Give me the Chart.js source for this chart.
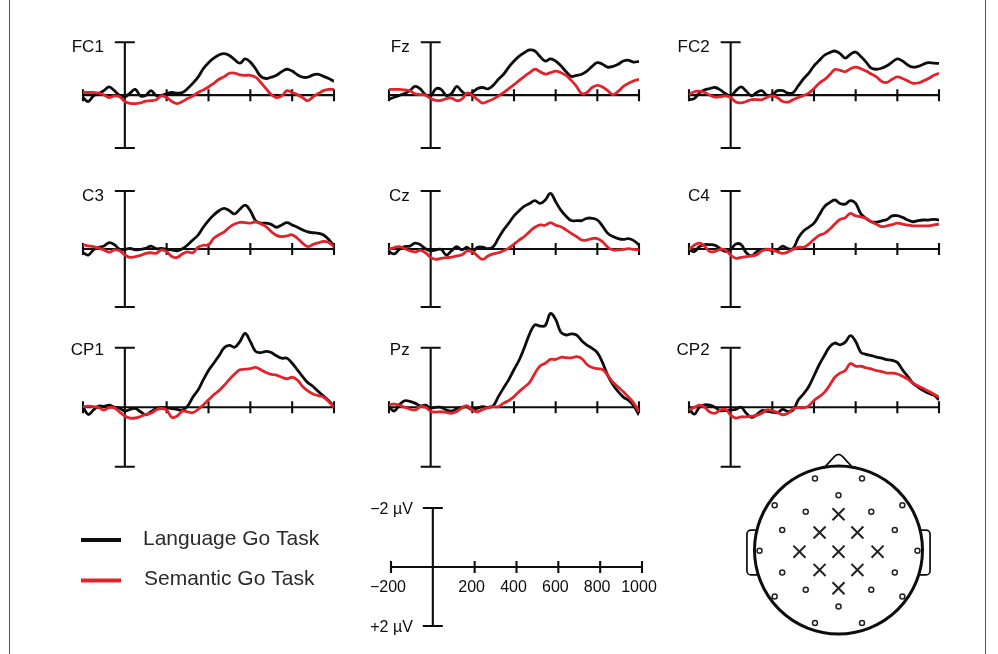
<!DOCTYPE html>
<html lang="en">
<head>
  <meta charset="UTF-8">
  <title>ERP waveforms: Language vs Semantic Go Task</title>
  <script src="https://cdn.jsdelivr.net/npm/chart.js"></script>
  <style>
    html, body { margin: 0; padding: 0; background: #fff; }
    body { width: 998px; height: 654px; position: relative; overflow: hidden; }
    canvas { position: absolute; left: 0; top: 0; }
    #frame { position: absolute; left: 9px; top: -5px; width: 975px; height: 670px;
             border-left: 1.5px solid #555; border-right: 1.5px solid #555; }
  </style>
</head>
<body>
<div id="frame"></div>

<script>
  // time points (ms) of the sampled waveforms
  const times = [-200, -175, -150, -125, -100, -75, -50, -25, 0, 25, 50, 75, 100, 125, 150, 175,
    200, 225, 250, 275, 300, 325, 350, 375, 400, 425, 450, 475, 500, 525, 550, 575,
    600, 625, 650, 675, 700, 725, 750, 775, 800, 825, 850, 875, 900, 925, 950, 975, 1000];

  const seriesNames = ['Language Go Task', 'Semantic Go Task'];
  const channelNames = ['FC1', 'Fz', 'FC2', 'C3', 'Cz', 'C4', 'CP1', 'Pz', 'CP2'];

  // amplitudes in µV (negative is plotted up)
  const fc1Language = [0.09, 0.24, 0.03, -0.06, -0.17, -0.31, -0.17, 0.01, 0.06, -0.08, -0.22, 0.03, 0.01, -0.17, 0.01, 0.01, -0.06, -0.1, -0.08, -0.1, -0.25, -0.45, -0.68, -1.0, -1.23, -1.4, -1.52, -1.57, -1.5, -1.34, -1.21, -1.37, -1.25, -1.0, -0.71, -0.63, -0.68, -0.75, -0.89, -0.98, -0.91, -0.77, -0.68, -0.68, -0.77, -0.79, -0.71, -0.63, -0.52];
  const fc1Semantic = [-0.1, -0.1, -0.1, -0.08, -0.01, 0.09, 0.03, 0.06, 0.24, 0.31, 0.32, 0.29, 0.23, 0.21, 0.17, 0.03, 0.09, 0.24, 0.32, 0.24, 0.13, 0.03, -0.1, -0.2, -0.31, -0.45, -0.6, -0.7, -0.83, -0.83, -0.77, -0.75, -0.75, -0.68, -0.48, -0.25, -0.02, 0.09, 0.03, -0.17, -0.1, -0.02, 0.09, 0.21, 0.06, -0.06, -0.17, -0.22, -0.22];
  const fzLanguage = [0.15, 0.08, 0.01, -0.06, -0.17, -0.33, -0.24, -0.02, 0.03, -0.24, -0.22, 0.01, -0.06, -0.33, -0.14, -0.02, -0.1, -0.25, -0.29, -0.24, -0.37, -0.6, -0.79, -1.06, -1.29, -1.48, -1.61, -1.71, -1.67, -1.46, -1.29, -1.37, -1.29, -1.11, -0.89, -0.71, -0.75, -0.79, -0.91, -1.09, -1.23, -1.17, -1.06, -1.09, -1.17, -1.29, -1.32, -1.25, -1.28];
  const fzSemantic = [-0.22, -0.22, -0.22, -0.2, -0.17, -0.05, -0.02, 0, 0.13, 0.2, 0.2, 0.13, 0.11, 0.21, 0.15, -0.08, 0.01, 0.17, 0.3, 0.23, 0.15, 0.03, -0.1, -0.25, -0.4, -0.56, -0.71, -0.85, -0.98, -0.89, -0.8, -0.85, -0.91, -0.85, -0.75, -0.56, -0.33, -0.06, -0.1, -0.29, -0.37, -0.31, -0.17, -0.02, -0.14, -0.33, -0.45, -0.54, -0.6];
  const fc2Language = [0.17, 0.13, -0.08, -0.2, -0.25, -0.29, -0.2, -0.06, 0.03, -0.17, -0.31, -0.15, 0.03, -0.1, -0.17, 0.01, -0.02, -0.17, -0.17, -0.08, -0.1, -0.36, -0.62, -0.83, -1.11, -1.31, -1.51, -1.61, -1.67, -1.57, -1.4, -1.55, -1.63, -1.46, -1.25, -1.02, -0.98, -1.02, -1.11, -1.25, -1.37, -1.29, -1.14, -1.06, -1.09, -1.17, -1.23, -1.21, -1.2];
  const fc2Semantic = [-0.02, -0.13, -0.15, -0.1, 0, 0.07, 0.06, 0.03, 0.09, 0.26, 0.29, 0.24, 0.17, 0.17, 0.17, 0.08, 0.03, 0.1, 0.24, 0.26, 0.17, 0.09, 0.01, -0.08, -0.25, -0.45, -0.59, -0.77, -0.97, -0.94, -0.89, -1.0, -1.06, -1.0, -0.91, -0.8, -0.69, -0.52, -0.48, -0.6, -0.69, -0.63, -0.54, -0.45, -0.46, -0.54, -0.63, -0.75, -0.83];
  const c3Language = [0.13, 0.21, 0.03, -0.05, -0.1, -0.22, -0.15, 0.01, 0.01, -0.02, 0.03, 0.01, -0.02, -0.1, -0.01, -0.02, 0.01, 0.03, 0.06, -0.01, -0.14, -0.31, -0.48, -0.75, -0.98, -1.17, -1.32, -1.4, -1.32, -1.21, -1.37, -1.51, -1.32, -0.98, -0.89, -0.89, -0.85, -0.75, -0.83, -0.91, -0.83, -0.75, -0.66, -0.59, -0.56, -0.54, -0.48, -0.33, -0.1];
  const c3Semantic = [-0.14, -0.11, -0.08, -0.03, 0.03, 0.11, 0.03, 0.06, 0.2, 0.29, 0.26, 0.22, 0.15, 0.13, 0.15, 0.03, 0.09, 0.26, 0.29, 0.17, 0.1, 0.13, -0.06, -0.13, -0.14, -0.37, -0.49, -0.59, -0.75, -0.86, -0.92, -0.91, -0.89, -0.94, -0.86, -0.77, -0.6, -0.47, -0.43, -0.45, -0.49, -0.37, -0.2, -0.08, -0.16, -0.21, -0.26, -0.22, -0.08];
  const czLanguage = [0.09, 0.17, 0.01, -0.08, -0.1, -0.2, -0.15, -0.01, 0.06, 0.03, 0.01, 0.21, 0.06, -0.08, 0.03, -0.06, 0.09, -0.06, -0.06, -0.01, -0.08, -0.37, -0.66, -0.89, -1.14, -1.32, -1.48, -1.57, -1.67, -1.57, -1.69, -1.92, -1.63, -1.34, -1.13, -0.98, -0.98, -0.98, -1.06, -1.06, -1.0, -0.79, -0.54, -0.43, -0.36, -0.33, -0.36, -0.29, -0.14];
  const czSemantic = [0.01, -0.05, -0.08, -0.01, 0.06, 0.1, 0.05, 0.13, 0.29, 0.36, 0.32, 0.3, 0.28, 0.24, 0.2, 0.07, 0.09, 0.24, 0.36, 0.24, 0.17, 0.13, 0.06, -0.03, -0.17, -0.31, -0.43, -0.6, -0.75, -0.83, -0.82, -0.91, -0.82, -0.77, -0.66, -0.54, -0.43, -0.31, -0.31, -0.36, -0.36, -0.25, -0.06, 0.03, 0.03, 0.01, -0.01, 0.01, 0.03];
  const c4Language = [0.01, 0.09, -0.08, -0.15, -0.15, -0.13, -0.01, 0.08, 0.01, -0.17, -0.15, 0.13, 0.24, 0.09, 0.03, 0.01, 0.06, 0.03, -0.1, -0.01, -0.02, -0.39, -0.62, -0.75, -0.89, -1.17, -1.46, -1.6, -1.69, -1.57, -1.55, -1.67, -1.57, -1.21, -1.06, -0.94, -0.93, -0.97, -1.02, -1.14, -1.15, -1.09, -1.0, -0.94, -0.98, -1.0, -1.0, -1.02, -1.0];
  const c4Semantic = [0.03, -0.13, -0.2, -0.1, 0.09, 0.08, 0.01, 0.03, 0.21, 0.32, 0.29, 0.26, 0.24, 0.2, 0.06, 0.01, 0.03, 0.1, 0.15, 0.1, 0.01, -0.06, -0.06, -0.17, -0.33, -0.47, -0.54, -0.68, -0.86, -1.02, -1.08, -1.23, -1.14, -1.11, -1.05, -0.94, -0.85, -0.77, -0.8, -0.84, -0.89, -0.86, -0.82, -0.8, -0.8, -0.8, -0.8, -0.83, -0.86];
  const cp1Language = [-0.02, 0.24, 0.09, -0.04, -0.03, -0.07, -0.01, 0.03, 0.13, 0.07, 0.04, 0.15, 0.25, 0.15, 0.04, 0, 0.02, 0.04, 0.07, 0.09, -0.04, -0.34, -0.58, -0.92, -1.24, -1.48, -1.73, -2.0, -2.08, -2.02, -2.21, -2.48, -2.21, -1.88, -1.84, -1.88, -1.84, -1.73, -1.65, -1.65, -1.48, -1.26, -1.03, -0.83, -0.7, -0.53, -0.38, -0.22, -0.02];
  const cp1Semantic = [-0.02, -0.04, -0.02, 0.01, 0.09, 0.01, 0.02, 0.16, 0.29, 0.36, 0.36, 0.31, 0.24, 0.2, 0.09, 0.04, 0.09, 0.34, 0.29, 0.13, 0.15, 0.18, 0.07, -0.08, -0.25, -0.42, -0.56, -0.74, -0.94, -1.12, -1.26, -1.28, -1.3, -1.34, -1.26, -1.17, -1.11, -1.08, -1.01, -0.96, -1.01, -0.92, -0.7, -0.55, -0.45, -0.39, -0.34, -0.19, 0];
  const pzLanguage = [-0.02, 0.13, -0.08, -0.22, -0.2, -0.14, -0.05, -0.07, 0.02, 0, 0, 0.09, 0.13, 0.05, 0, -0.01, 0.09, 0.03, -0.02, 0, -0.05, -0.36, -0.65, -0.93, -1.27, -1.59, -2.01, -2.47, -2.77, -2.73, -2.75, -3.15, -2.95, -2.52, -2.43, -2.47, -2.43, -2.24, -2.09, -1.98, -1.84, -1.5, -1.07, -0.76, -0.53, -0.34, -0.23, -0.05, 0.26];
  const pzSemantic = [-0.08, -0.11, -0.07, 0, 0.06, 0.09, -0.02, 0, 0.13, 0.16, 0.15, 0.17, 0.2, 0.14, 0.02, -0.05, 0.09, 0.15, 0.07, 0.01, -0.02, -0.02, -0.14, -0.23, -0.36, -0.53, -0.68, -0.84, -1.14, -1.39, -1.48, -1.61, -1.61, -1.68, -1.67, -1.66, -1.7, -1.64, -1.44, -1.34, -1.3, -1.27, -1.07, -0.84, -0.68, -0.52, -0.34, -0.14, 0.15];
  const cp2Language = [0.03, 0.23, 0, -0.08, -0.07, 0, 0.11, 0.11, 0.09, 0.07, 0, 0.2, 0.34, 0.25, 0.11, 0.14, 0.16, 0.18, 0.07, 0.14, 0.09, -0.25, -0.45, -0.7, -1.06, -1.43, -1.74, -2.03, -2.16, -2.1, -2.19, -2.41, -2.21, -1.85, -1.78, -1.74, -1.69, -1.65, -1.6, -1.58, -1.51, -1.26, -1.04, -0.81, -0.68, -0.56, -0.47, -0.41, -0.25];
  const cp2Semantic = [0.09, 0.01, -0.07, 0, 0.16, 0.2, 0.09, 0.07, 0.26, 0.36, 0.32, 0.32, 0.3, 0.27, 0.2, 0.09, 0.11, 0.18, 0.25, 0.2, 0.05, 0.01, 0.02, -0.05, -0.23, -0.36, -0.5, -0.74, -1.01, -1.15, -1.24, -1.47, -1.38, -1.38, -1.33, -1.29, -1.23, -1.2, -1.15, -1.15, -1.12, -1.04, -0.95, -0.81, -0.72, -0.63, -0.54, -0.45, -0.34];

  const languageSeries = [fc1Language, fzLanguage, fc2Language, c3Language, czLanguage, c4Language, cp1Language, pzLanguage, cp2Language];
  const semanticSeries = [fc1Semantic, fzSemantic, fc2Semantic, c3Semantic, czSemantic, c4Semantic, cp1Semantic, pzSemantic, cp2Semantic];

  // axis ticks (ms) and scale-bar labels
  const xTickValues = [-200, 0, 200, 400, 600, 800, 1000];
  const xTickLabels = ['\u2212200', '', '200', '400', '600', '800', '1000'];
  const yScaleValues = [-2, 2];
  const yScaleLabels = ['\u22122 \u00b5V', '+2 \u00b5V'];

  // electrode montage (head radius = 1, nose up)
  const otherElecX = [-0.28, 0.28, 0, -0.76, 0.76, -0.39, 0.39, -0.67, 0.67, -0.94, 0.94, -0.67, 0.67, -0.39, 0.39, -0.76, 0.76, 0, -0.28, 0.28];
  const otherElecY = [0.86, 0.86, 0.66, 0.54, 0.54, 0.46, 0.46, 0.24, 0.24, -0.01, -0.01, -0.27, -0.27, -0.48, -0.48, -0.56, -0.56, -0.68, -0.88, -0.88];
  const shownElecX = [0, -0.225, 0.225, -0.465, 0, 0.465, -0.225, 0.225, 0];
  const shownElecY = [0.43, 0.21, 0.21, -0.02, -0.02, -0.02, -0.24, -0.24, -0.46];

  // ---- layout ----
  const W = 998, H = 654;
  const BLACK = '#0d0d0d', RED = '#e4222b';
  const FONT = '"Liberation Sans", Arial, Helvetica, sans-serif';
  Chart.defaults.font.family = FONT;

  const panelBoxes = [
    { left: 83, right: 334, base: 89, ppu: 29, labelDy: 9.5 },
    { left: 389, right: 639, base: 89, ppu: 29, labelDy: 9.5 },
    { left: 689, right: 939, base: 89, ppu: 29, labelDy: 9.5 },
    { left: 83, right: 334, base: 249, ppu: 29, labelDy: 9.5 },
    { left: 389, right: 639, base: 249, ppu: 29, labelDy: 9.5 },
    { left: 689, right: 939, base: 249, ppu: 29, labelDy: 9.5 },
    { left: 83, right: 334, base: 407.3, ppu: 29.75, labelDy: 6.8 },
    { left: 389, right: 639, base: 407.3, ppu: 29.75, labelDy: 6.8 },
    { left: 689, right: 939, base: 407.3, ppu: 29.75, labelDy: 6.8 }
  ];
  const scaleBox = { left: 391, right: 642, base: 567, ppu: 29.5 };

  function addCanvas() {
    const c = document.createElement('canvas');
    c.width = W; c.height = H;
    c.style.width = W + 'px'; c.style.height = H + 'px';
    document.body.appendChild(c);
    return c;
  }

  function toPoints(values) {
    return times.map((t, i) => ({ x: t, y: values[i] }));
  }

  // axis cross: horizontal time axis with ticks, vertical ±2 µV bar with caps
  const erpAxes = {
    id: 'erpAxes',
    beforeDatasetsDraw(chart, args, opts) {
      const ctx = chart.ctx, xs = chart.scales.x, ys = chart.scales.y;
      const y0 = ys.getPixelForValue(0), x0 = xs.getPixelForValue(0);
      const yTop = ys.getPixelForValue(yScaleValues[0]);
      const yBot = ys.getPixelForValue(yScaleValues[1]);
      ctx.save();
      ctx.strokeStyle = BLACK;
      ctx.lineWidth = 2.1;
      ctx.beginPath();
      ctx.moveTo(xs.getPixelForValue(times[0]), y0);
      ctx.lineTo(xs.getPixelForValue(times[times.length - 1]), y0);
      xTickValues.forEach(v => {
        const x = xs.getPixelForValue(v);
        ctx.moveTo(x, y0 - 6);
        ctx.lineTo(x, y0 + 6);
      });
      ctx.moveTo(x0, yTop); ctx.lineTo(x0, yBot);
      ctx.moveTo(x0 - 10, yTop); ctx.lineTo(x0 + 10, yTop);
      ctx.moveTo(x0 - 10, yBot); ctx.lineTo(x0 + 10, yBot);
      ctx.stroke();

      ctx.fillStyle = BLACK;
      if (opts.label) {
        ctx.font = '17px ' + FONT;
        ctx.textAlign = 'right';
        ctx.textBaseline = 'alphabetic';
        ctx.fillText(opts.label, x0 - 21, yTop + opts.labelDy);
      }
      if (opts.tickLabels) {
        ctx.font = '16px ' + FONT;
        ctx.textAlign = 'center';
        xTickValues.forEach((v, i) => {
          if (xTickLabels[i]) ctx.fillText(xTickLabels[i], xs.getPixelForValue(v) - 3, y0 + 25);
        });
        ctx.textAlign = 'right';
        yScaleValues.forEach((v, i) => {
          ctx.fillText(yScaleLabels[i], x0 - 20, ys.getPixelForValue(v) + 5.5);
        });
      }
      ctx.restore();
    }
  };

  // legend: swatch + series name
  const seriesKey = {
    id: 'seriesKey',
    afterDraw(chart) {
      const ctx = chart.ctx;
      const colors = [BLACK, RED];
      const rows = [540, 580.5];
      ctx.save();
      ctx.font = '21px ' + FONT;
      ctx.textAlign = 'left';
      ctx.textBaseline = 'alphabetic';
      seriesNames.forEach((name, i) => {
        ctx.strokeStyle = colors[i];
        ctx.lineWidth = 4;
        ctx.beginPath();
        ctx.moveTo(81, rows[i]);
        ctx.lineTo(121, rows[i]);
        ctx.stroke();
        ctx.fillStyle = '#2b2b2b';
        ctx.fillText(name, 143 + i, rows[i] + 4.5);
      });
      ctx.restore();
    }
  };

  function padFor(box, yMin, yMax) {
    return {
      left: box.left,
      right: W - box.right,
      top: box.base + yMin * box.ppu,
      bottom: H - (box.base + yMax * box.ppu)
    };
  }

  function timeChart(box, datasets, pluginOpts, extraPlugins) {
    const yMin = -3.6, yMax = 2.4;
    return new Chart(addCanvas(), {
      type: 'line',
      data: { datasets },
      options: {
        responsive: false,
        animation: false,
        events: [],
        layout: { padding: padFor(box, yMin, yMax) },
        scales: {
          x: { type: 'linear', min: -200, max: 1000, display: false },
          y: { min: yMin, max: yMax, reverse: true, display: false }
        },
        plugins: {
          legend: { display: false },
          tooltip: { enabled: false },
          erpAxes: pluginOpts
        }
      },
      plugins: [erpAxes].concat(extraPlugins || [])
    });
  }

  // nine channel panels
  channelNames.forEach((name, i) => {
    timeChart(panelBoxes[i], [
      { label: seriesNames[1], data: toPoints(semanticSeries[i]), borderColor: RED, borderWidth: 2.8,
        pointRadius: 0, tension: 0.4, order: 0 },
      { label: seriesNames[0], data: toPoints(languageSeries[i]), borderColor: BLACK, borderWidth: 2.8,
        pointRadius: 0, tension: 0.4, order: 1 }
    ], { label: name, labelDy: panelBoxes[i].labelDy });
  });

  // scale bar with tick labels + legend
  timeChart(scaleBox, [], { tickLabels: true }, [seriesKey]);

  // head map
  const headOutline = {
    id: 'headOutline',
    beforeDatasetsDraw(chart) {
      const ctx = chart.ctx, xs = chart.scales.x, ys = chart.scales.y;
      const px = v => xs.getPixelForValue(v), py = v => ys.getPixelForValue(v);
      const r = px(1) - px(0);
      ctx.save();
      ctx.strokeStyle = BLACK;
      ctx.lineWidth = 1.7;
      [-1, 1].forEach(s => {
        const inner = px(s * 0.96), outer = px(s * 1.09), top = py(0.24), bot = py(-0.3);
        ctx.beginPath();
        ctx.moveTo(inner, top);
        ctx.arcTo(outer, top, outer, bot, 4);
        ctx.arcTo(outer, bot, inner, bot, 4);
        ctx.lineTo(inner, bot);
        ctx.stroke();
      });
      ctx.beginPath();
      ctx.moveTo(px(-0.18), py(0.98));
      ctx.lineTo(px(-0.05), py(1.125));
      ctx.quadraticCurveTo(px(0), py(1.18), px(0.05), py(1.125));
      ctx.lineTo(px(0.18), py(0.98));
      ctx.stroke();
      ctx.lineWidth = 3;
      ctx.beginPath();
      ctx.arc(px(0), py(0), r, 0, Math.PI * 2);
      ctx.stroke();
      ctx.restore();
    }
  };

  new Chart(addCanvas(), {
    type: 'scatter',
    data: {
      datasets: [
        { data: otherElecX.map((x, i) => ({ x, y: otherElecY[i] })), pointStyle: 'circle',
          pointRadius: 2.5, pointBorderWidth: 1.5, pointBorderColor: '#222', pointBackgroundColor: '#fff' },
        { data: shownElecX.map((x, i) => ({ x, y: shownElecY[i] })), pointStyle: 'crossRot',
          pointRadius: 8.5, pointBorderWidth: 2, pointBorderColor: '#222' }
      ]
    },
    options: {
      responsive: false,
      animation: false,
      events: [],
      layout: { padding: { left: 754.5, right: W - 922.5, top: 467, bottom: H - 633 } },
      scales: {
        x: { type: 'linear', min: -1, max: 1, display: false },
        y: { type: 'linear', min: -1, max: 1, display: false }
      },
      plugins: { legend: { display: false }, tooltip: { enabled: false } }
    },
    plugins: [headOutline]
  });
</script>

</body>
</html>
